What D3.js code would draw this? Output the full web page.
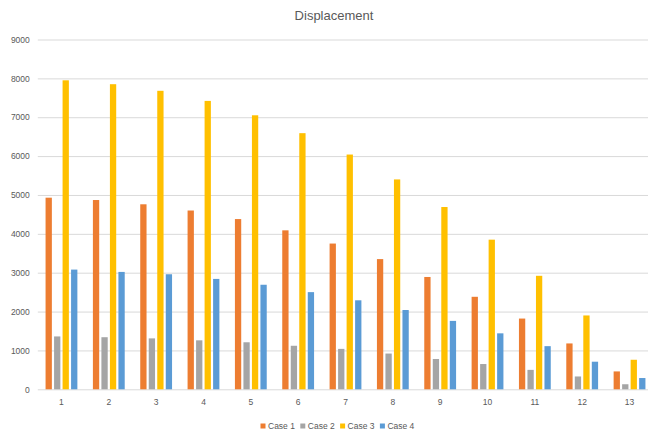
<!DOCTYPE html>
<html>
<head>
<meta charset="utf-8">
<script src="https://cdn.jsdelivr.net/npm/d3@7"></script>
<style>
  html, body { margin: 0; padding: 0; background: #fff; }
  svg { display: block; }
</style>
</head>
<body>
<div id="chart"></div>
<script>
// Displacement per step for four load cases
const categories = ["1", "2", "3", "4", "5", "6", "7", "8", "9", "10", "11", "12", "13"];
const seriesNames = ["Case 1", "Case 2", "Case 3", "Case 4"];
const case1 = [4930, 4870, 4760, 4600, 4380, 4090, 3750, 3350, 2890, 2380, 1820, 1180, 460];
const case2 = [1360, 1340, 1310, 1260, 1210, 1120, 1040, 920, 780, 650, 500, 330, 130];
const case3 = [7950, 7850, 7680, 7420, 7050, 6590, 6040, 5400, 4690, 3850, 2920, 1900, 760];
const case4 = [3080, 3020, 2960, 2840, 2690, 2500, 2290, 2040, 1760, 1440, 1110, 710, 290];
const yTicks = [0, 1000, 2000, 3000, 4000, 5000, 6000, 7000, 8000, 9000];
const colors = ["#ED7D31", "#A5A5A5", "#FFC000", "#5B9BD5"];

const seriesValues = [case1, case2, case3, case4];
const width = 648, height = 432;
const textColor = "#595959";
const font = "'Liberation Sans', Arial, sans-serif";

const svg = d3.select("#chart").append("svg")
  .attr("width", width).attr("height", height);

const x0 = d3.scaleBand().domain(categories).range([37.8, 653.2]).paddingInner(0).paddingOuter(0);
const groupW = x0.bandwidth() * 0.672;
const groupOff = (x0.bandwidth() - groupW) / 2;
const x1 = d3.scaleBand().domain(seriesNames).range([groupOff, groupOff + groupW]).paddingInner(0.26).paddingOuter(0);
const y = d3.scaleLinear().domain([0, 9000]).range([389.3, 39.5]);

// gridlines + y labels
const yAxis = d3.axisLeft(y).tickValues(yTicks).tickFormat(d3.format("d"))
  .tickSize(-(width - 37.8)).tickPadding(8);
const gy = svg.append("g").attr("transform", "translate(37.8,0)").call(yAxis);
gy.select(".domain").remove();
gy.selectAll(".tick line").attr("stroke", "#D9D9D9").attr("stroke-width", 1);
gy.selectAll(".tick text").attr("fill", textColor).attr("font-family", font).attr("font-size", 8.5);

// x axis labels
const xAxis = d3.axisBottom(x0).tickSize(0).tickPadding(10);
const gx = svg.append("g").attr("transform", `translate(0,${y(0)})`).call(xAxis);
gx.select(".domain").remove();
gx.selectAll(".tick text").attr("fill", textColor).attr("font-family", font).attr("font-size", 8.5);

// bars
const rows = categories.map((c, i) => ({
  cat: c,
  vals: seriesNames.map((s, k) => ({ name: s, value: seriesValues[k][i], color: colors[k] }))
}));
svg.append("g").selectAll("g").data(rows).join("g")
  .attr("transform", d => `translate(${x0(d.cat)},0)`)
  .selectAll("rect").data(d => d.vals).join("rect")
  .attr("x", d => x1(d.name))
  .attr("width", x1.bandwidth())
  .attr("y", d => y(d.value))
  .attr("height", d => y(0) - y(d.value))
  .attr("fill", d => d.color);

// title
svg.append("text").attr("x", 334).attr("y", 20).attr("text-anchor", "middle")
  .attr("fill", textColor).attr("font-family", font).attr("font-size", 13)
  .text("Displacement");

// legend
const legend = svg.append("g").attr("transform", "translate(260.5,426)");
const item = legend.selectAll("g").data(seriesNames).join("g")
  .attr("transform", (d, i) => `translate(${i * 39.8},0)`);
item.append("rect").attr("x", 0).attr("y", -2.5).attr("width", 5).attr("height", 5)
  .attr("fill", (d, i) => colors[i]);
item.append("text").attr("x", 7.5).attr("y", 3).attr("fill", textColor)
  .attr("font-family", font).attr("font-size", 8.5).text(d => d);
</script>
</body>
</html>
